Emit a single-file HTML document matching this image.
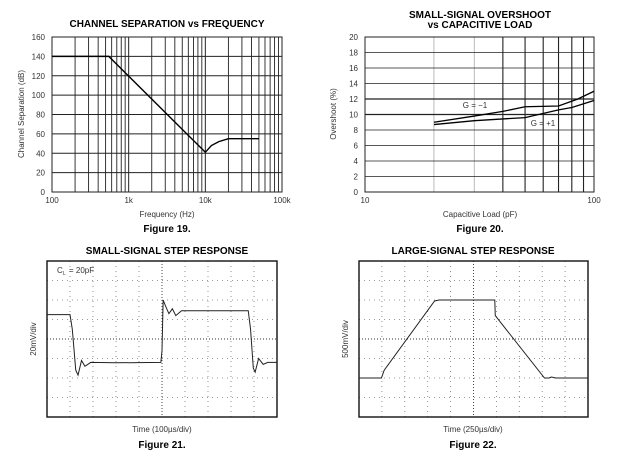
<!DOCTYPE html>
<html><head><meta charset="utf-8"><style>
body{margin:0;background:#fff;}
svg{display:block;font-family:"Liberation Sans",sans-serif;}
.t{font-weight:bold;font-size:10px;}
.s{font-size:8px;fill:#333;}
</style></head><body>
<svg id="svg" width="620" height="457" viewBox="0 0 620 457"></svg>
<script>
// Figure 19 data
const f19Freq = [100, 550, 10000, 12000, 15000, 20000, 50000];
const f19Sep = [140, 140, 41, 48, 52, 55, 55];
const f19YTicks = [0,20,40,60,80,100,120,140,160];
const f19XTicks = ["100","1k","10k","100k"];
// Figure 20 data
const f20Cap = [20, 30, 40, 50, 70, 85, 100];
const f20GNeg = [9.0, 9.8, 10.4, 11.0, 11.1, 12.0, 13.0];
const f20CapPos = [20, 30, 50, 70, 80, 100];
const f20GPos = [8.7, 9.2, 9.6, 10.6, 10.9, 11.8];
const f20YTicks = [0,2,4,6,8,10,12,14,16,18,20];
// Figure 21 data (time div, level div from top)
const f21T = [0, 1.0, 1.1, 1.25, 1.35, 1.5, 1.65, 1.9, 3, 4.95, 5.0, 5.05, 5.15, 5.3, 5.45, 5.6, 5.85, 7, 8.75, 8.85, 8.97, 9.05, 9.2, 9.4, 9.6, 10];
const f21V = [2.75, 2.75, 3.5, 5.6, 5.85, 5.1, 5.4, 5.2, 5.22, 5.2, 4.6, 2.0, 2.3, 2.7, 2.45, 2.8, 2.55, 2.55, 2.55, 3.5, 5.5, 5.7, 5.0, 5.3, 5.2, 5.2];
// Figure 22 data
const f22T = [0, 0.98, 1.1, 3.3, 3.5, 5.93, 5.95, 8.1, 8.3, 8.4, 8.6, 10];
const f22V = [6, 6, 5.6, 2.05, 2.0, 2.0, 2.8, 6.0, 6.0, 5.95, 6.0, 6.0];

const svg = document.getElementById('svg');
const NS = 'http://www.w3.org/2000/svg';
function mk(tag, attrs, txt){const e=document.createElementNS(NS,tag);for(const k in attrs)e.setAttribute(k,attrs[k]);if(txt!==undefined)e.textContent=txt;svg.appendChild(e);return e;}
function line(x1,y1,x2,y2,stroke,w,dash){return mk('line',{x1,y1,x2,y2,stroke,'stroke-width':w,'stroke-dasharray':dash||'none'});}
function text(x,y,s,cls,anchor,rot){const a={x,y,class:cls,'text-anchor':anchor||'middle'};if(rot)a.transform=`rotate(-90 ${x} ${y})`;return mk('text',a,s);}

// ---------- Figure 19 ----------
{
const L=52,R=282,T=37,B=192;
const xs=f=>L+(Math.log10(f)-2)/3*(R-L);
const ys=v=>B-v/160*(B-T);
for(let d=2;d<5;d++)for(let m=1;m<10;m++){const f=m*Math.pow(10,d);if(m>1){const l=line(xs(f),T,xs(f),B,'#222',0.9);}}
f19YTicks.forEach(v=>{const l=line(L,ys(v),R,ys(v),'#222',1);
const t=text(L-7,ys(v)+3,String(v),'s','end');});
f19XTicks.forEach((s,i)=>{const l=line(xs(Math.pow(10,i+2)),T,xs(Math.pow(10,i+2)),B,'#222',1);
const t=text(xs(Math.pow(10,i+2)),203,s,'s');});
const fr=mk('rect',{x:L,y:T,width:R-L,height:B-T,fill:'none',stroke:'#222','stroke-width':1});

const p=mk('polyline',{points:f19Freq.map((f,i)=>xs(f)+','+ys(f19Sep[i])).join(' '),fill:'none',stroke:'#000','stroke-width':1.4});

let t=text(167,27,'CHANNEL SEPARATION vs FREQUENCY','t');
t=text(167,217,'Frequency (Hz)','s');
t=text(24,114,'Channel Separation (dB)','s','middle',true);
t=text(167,232,'Figure 19.','t');
}

// ---------- Figure 20 ----------
{
const L=365,R=594,T=37,B=192;
const xs=c=>L+(Math.log10(c)-1)*(R-L);
const ys=v=>B-v/20*(B-T);
for(let m=2;m<10;m++){const c=m*10;const dark=m>=4;const l=line(xs(c),T,xs(c),B,dark?'#222':'#aaa',dark?1.1:0.8);}
f20YTicks.forEach(v=>{const dark=(v==10||v==12);const l=line(L,ys(v),R,ys(v),'#222',dark?1.3:0.8);
const t=text(L-7,ys(v)+3,String(v),'s','end');});
let t=text(xs(10),203,'10','s');
t=text(xs(100),203,'100','s');
const fr=mk('rect',{x:L,y:T,width:R-L,height:B-T,fill:'none',stroke:'#222','stroke-width':1});

let p=mk('polyline',{points:f20Cap.map((c,i)=>xs(c)+','+ys(f20GNeg[i])).join(' '),fill:'none',stroke:'#000','stroke-width':1.3});

p=mk('polyline',{points:f20CapPos.map((c,i)=>xs(c)+','+ys(f20GPos[i])).join(' '),fill:'none',stroke:'#000','stroke-width':1.3});

t=text(475,108,'G = −1','s');
t=text(543,126,'G = +1','s');
t=text(480,18,'SMALL-SIGNAL OVERSHOOT','t');
t=text(480,28,'vs CAPACITIVE LOAD','t');
t=text(480,217,'Capacitive Load (pF)','s');
t=text(336,114,'Overshoot (%)','s','middle',true);
t=text(480,232,'Figure 20.','t');
}

// ---------- scope helper ----------
function scope(L,R,T,B,tArr,vArr,name){
const dx=(R-L)/10,dy=(B-T)/8;
for(let i=1;i<10;i++){const c=i==5;const l=line(L+i*dx,T,L+i*dx,B,c?'#333':'#777',c?0.9:0.8,c?'1,2':'1,4');}
for(let j=1;j<8;j++){const c=j==4;const l=line(L,T+j*dy,R,T+j*dy,c?'#333':'#777',c?0.9:0.8,c?'1,2':'1,4');}
const fr=mk('rect',{x:L,y:T,width:R-L,height:B-T,fill:'none',stroke:'#111','stroke-width':1.4});

const p=mk('polyline',{points:tArr.map((t,i)=>(L+t*dx)+','+(T+vArr[i]*dy)).join(' '),fill:'none',stroke:'#222','stroke-width':1});

}

// ---------- Figure 21 ----------
{
scope(47,277,261,417,f21T,f21V,'step-waveform');
let t=text(167,254,'SMALL-SIGNAL STEP RESPONSE','t');
t=text(57,273,'C',"s","start");
t=text(63,275,'L','s','start');t.setAttribute('style','font-size:5px');
t=text(69,273,'= 20pF','s','start');
t=text(36,339,'20mV/div','s','middle',true);
t=text(162,432,'Time (100µs/div)','s');
t=text(162,448,'Figure 21.','t');
}

// ---------- Figure 22 ----------
{
scope(359,588,261,417,f22T,f22V,'step-waveform');
let t=text(473,254,'LARGE-SIGNAL STEP RESPONSE','t');
t=text(348,339,'500mV/div','s','middle',true);
t=text(473,432,'Time (250µs/div)','s');
t=text(473,448,'Figure 22.','t');
}
</script>
</body></html>
